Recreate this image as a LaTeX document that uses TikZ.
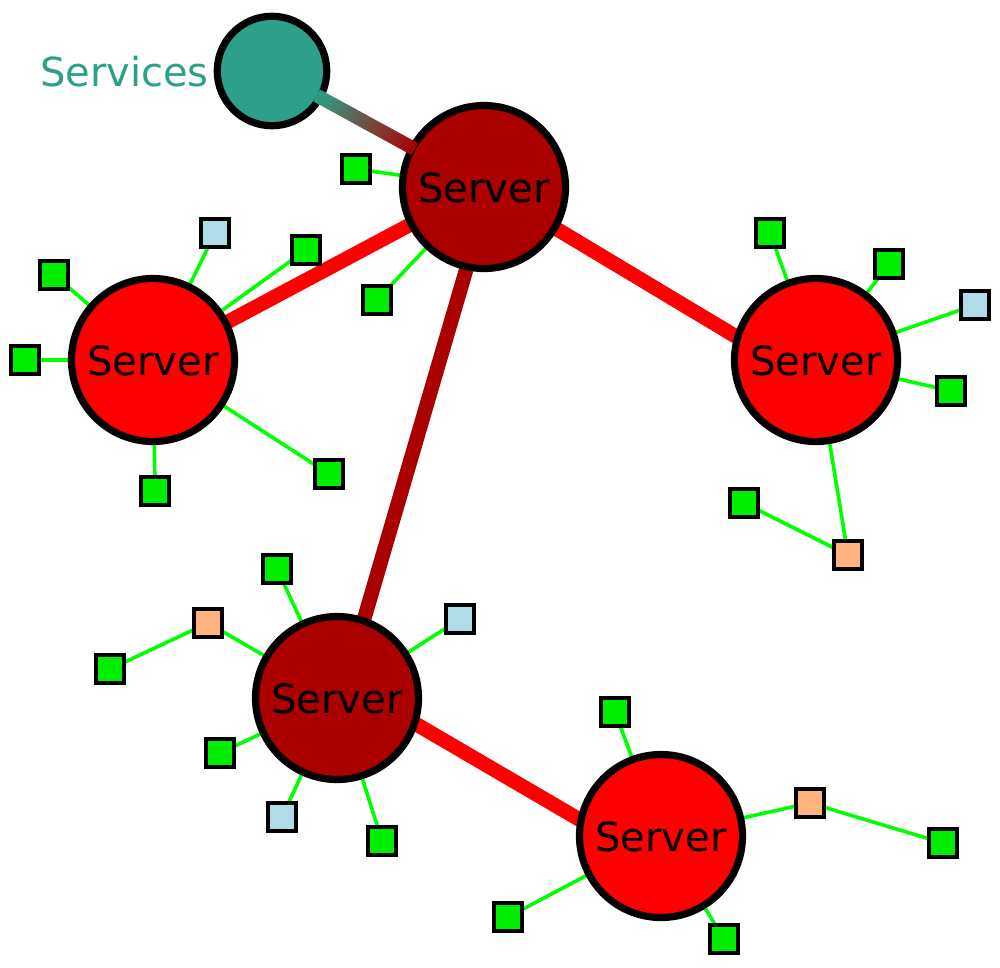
\documentclass[tikz,border=0pt]{standalone}
\usepackage{fontspec}
\setmainfont{DejaVu Sans}
\usetikzlibrary{backgrounds,calc}
\definecolor{sgreen}{HTML}{00EE00}
\definecolor{sedge}{HTML}{00FF00}
\definecolor{sblue}{HTML}{B0DCE8}
\definecolor{sorange}{HTML}{FFB380}
\definecolor{steal}{HTML}{2CA089}
\definecolor{sdark}{HTML}{AA0000}
\newcommand{\srvtext}{\raisebox{-15pt}[10pt][10pt]{Server}}
\tikzset{
  srv/.style={circle,draw=black,line width=7.2pt,minimum size=163pt,inner sep=0pt,outer sep=0pt,font=\fontsize{40.2}{44}\selectfont,text=black},
  srvred/.style={srv,fill=red},
  srvdark/.style={srv,fill=sdark},
  svc/.style={circle,draw=black,line width=7.2pt,minimum size=109.5pt,inner sep=0pt,outer sep=0pt,fill=steal},
  sq/.style={rectangle,draw=black,line width=4pt,minimum size=28pt,inner sep=0pt,outer sep=0pt},
  gsq/.style={sq,fill=sgreen},
  bsq/.style={sq,fill=sblue},
  osq/.style={sq,fill=sorange},
  thin edge/.style={draw=sedge,line width=3.6pt},
  thick edge/.style={line width=14.5pt}
}
\begin{document}
\begin{tikzpicture}[x=1pt,y=-1pt]
\useasboundingbox (0,0) rectangle (1000,967);
\node[svc] (svc) at (272,71) {};
\node[anchor=east,inner sep=0pt,text=steal,font=\fontsize{40}{44}\selectfont] (svclabel) at (209,72) {Services};
\node[srvdark] (top) at (484,187) {\srvtext};
\node[srvred] (left) at (153,360) {\srvtext};
\node[srvred] (right) at (816,360) {\srvtext};
\node[srvdark] (bl) at (337,698) {\srvtext};
\node[srvred] (br) at (661,836) {\srvtext};
% top
\node[gsq] (t1) at (356,169) {};
\node[gsq] (t2) at (377,300) {};
% left
\node[gsq] (l1) at (306,250) {};
\node[bsq] (l2) at (215,233) {};
\node[gsq] (l3) at (54,275) {};
\node[gsq] (l4) at (25,360) {};
\node[gsq] (l5) at (155,491) {};
\node[gsq] (l6) at (329,474) {};
% right
\node[gsq] (r1) at (770,233) {};
\node[gsq] (r2) at (889,264) {};
\node[bsq] (r3) at (975,305) {};
\node[gsq] (r4) at (951,391) {};
\node[osq] (r5) at (848,555) {};
\node[gsq] (r6) at (744,503) {};
% bottom left
\node[gsq] (b1) at (277,569) {};
\node[osq] (b2) at (208,623) {};
\node[gsq] (b3) at (110,669) {};
\node[bsq] (b4) at (460,619) {};
\node[gsq] (b5) at (220,753) {};
\node[bsq] (b6) at (282,817) {};
\node[gsq] (b7) at (382,841) {};
% bottom right
\node[gsq] (c1) at (615,712) {};
\node[osq] (c2) at (810,803) {};
\node[gsq] (c3) at (943,843) {};
\node[gsq] (c4) at (508,917) {};
\node[gsq] (c5) at (724,939) {};
\begin{scope}[on background layer]
\foreach \a/\b in {top/t1,top/t2,left/l1,left/l2,left/l3,left/l4,left/l5,left/l6,
  right/r1,right/r2,right/r3,right/r4,right/r5,r5/r6,
  bl/b1,bl/b2,b2/b3,bl/b4,bl/b5,bl/b6,bl/b7,
  br/c1,br/c2,c2/c3,br/c4,br/c5}
  \draw[thin edge] (\a) -- (\b);
\draw[thick edge,red] (top.207.8) -- (left.27.5);
\draw[thick edge,red] (top.-30.4) -- (right.164);
\draw[thick edge,sdark] (top.-102.5) -- (bl.71.8);
\draw[thick edge,red] (bl.-18) -- (br.169);
\end{scope}
% gradient connector, over the rings
\coordinate (g0) at ($(svc)!0.211!(top)$);
\coordinate (g1) at ($(top)!0.327!(svc)$);
\foreach \i [evaluate=\i as \j using {min(\i+1.3,100)}] in {0,1,...,99}
  \draw[line width=13.5pt,color=sdark!\i!steal] ($(g0)!\i/100!(g1)$) -- ($(g0)!\j/100!(g1)$);
\end{tikzpicture}
\end{document}
